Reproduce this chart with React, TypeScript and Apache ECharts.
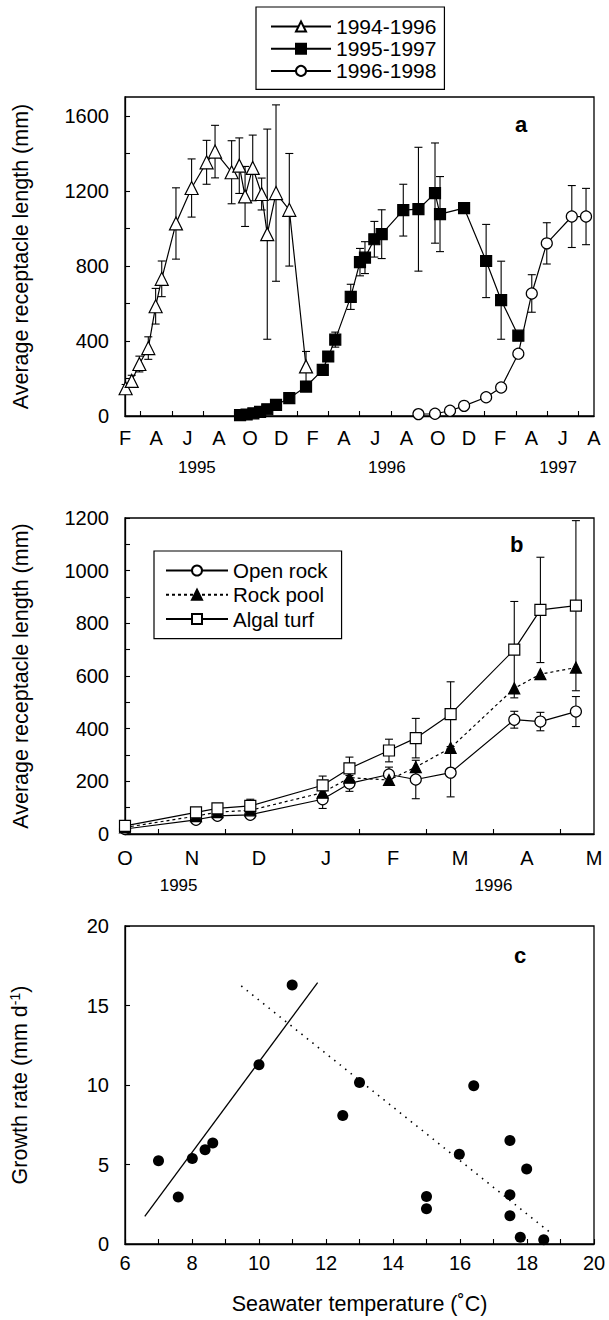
import React, { useEffect, useRef } from 'react';
import * as echarts from 'echarts';

const FONT = '"Liberation Sans", Arial, Helvetica, sans-serif';

// ---------- Panel a ----------
const monthLettersA = ['F', 'A', 'J', 'A', 'O', 'D', 'F', 'A', 'J', 'A', 'O', 'D', 'F', 'A', 'J', 'A'];
const yearLabelsA = ['1995', '1996', '1997'];
const yearPosA = [4.6, 16.75, 27.7];
const yTicksA = [0, 400, 800, 1200, 1600];

// months counted from Feb 1995
const s9496Month = [0.04, 0.43, 0.92, 1.49, 1.96, 2.35, 3.26, 4.26, 5.22, 5.76, 6.82, 7.31, 7.68, 8.17, 8.74, 9.1, 9.66, 10.51, 11.58];
const s9496Value = [148, 187, 277, 362, 585, 731, 1026, 1215, 1352, 1409, 1299, 1334, 1170, 1322, 1183, 969, 1188, 1099, 264];
const s9496Err = [20, 30, 42, 60, 95, 95, 190, 155, 117, 140, 168, 148, 160, 175, 85, 560, 470, 300, 80];

const s9597Month = [7.36, 7.78, 8.21, 8.64, 9.1, 9.66, 10.51, 11.58, 12.65, 13.0, 13.45, 14.44, 15.03, 15.35, 15.95, 16.42, 17.8, 18.77, 19.83, 20.15, 21.69, 23.1, 24.06, 25.16];
const s9597Value = [5, 8, 14, 22, 36, 59, 95, 157, 246, 317, 407, 635, 820, 844, 942, 969, 1097, 1102, 1188, 1076, 1108, 826, 617, 428];
const s9597Err = [0, 0, 0, 0, 0, 0, 0, 0, 0, 20, 40, 67, 73, 85, 95, 130, 138, 330, 267, 200, 0, 195, 208, 0];

const s9698Month = [18.77, 19.83, 20.79, 21.69, 23.1, 24.06, 25.16, 26.02, 26.98, 28.58, 29.49];
const s9698Value = [10, 12, 28, 54, 100, 152, 332, 653, 920, 1063, 1063];
const s9698Err = [0, 0, 0, 0, 0, 0, 15, 100, 110, 165, 150];

// ---------- Panel b ----------
const monthLettersB = ['O', 'N', 'D', 'J', 'F', 'M', 'A', 'M'];
const yearLabelsB = ['1995', '1996'];
const yearPosB = [0.8, 5.5];
// months counted from Oct 1995
const habitatMonth = [0, 1.06, 1.38, 1.87, 2.95, 3.35, 3.94, 4.34, 4.86, 5.81, 6.2, 6.73];
const openRockValue = [19, 54, 69, 73, 132, 192, 226, 207, 233, 434, 427, 465];
const openRockErr = [0, 0, 0, 0, 35, 30, 28, 73, 92, 32, 35, 57];
const rockPoolValue = [25, 68, 83, 90, 157, 214, 205, 254, 327, 553, 607, 632];
const rockPoolErr = [0, 0, 0, 0, 0, 0, 0, 0, 0, 0, 0, 0];
const algalTurfValue = [31, 82, 97, 107, 185, 249, 317, 364, 455, 700, 851, 867];
const algalTurfErr = [0, 0, 0, 25, 35, 43, 43, 75, 123, 183, 200, 323];

// ---------- Panel c ----------
const tempC = [7.0, 7.59, 8.01, 8.39, 8.62, 10.0, 10.99, 12.5, 13.0, 15.0, 15.0, 15.98, 16.41, 17.49, 17.49, 17.49, 17.8, 17.99, 18.5];
const growthRate = [5.24, 2.95, 5.38, 5.93, 6.35, 11.27, 16.29, 8.08, 10.16, 2.99, 2.22, 5.65, 9.95, 6.51, 3.1, 1.78, 0.42, 4.71, 0.27];
const fitRising = [[6.59, 1.74], [11.75, 16.44]];
const fitFalling = [[9.47, 16.23], [18.71, 0.69]];

const range = (a: number, b: number, step: number) => {
  const out: number[] = [];
  for (let v = a; v <= b + 1e-9; v += step) out.push(Math.round(v * 1000) / 1000);
  return out;
};

const pairs = (xs: number[], ys: number[]) => xs.map((x, i) => [x, ys[i]]);
const errData = (xs: number[], ys: number[], es: number[]) =>
  xs.map((x, i) => (es[i] > 0 ? [x, ys[i] - es[i], ys[i] + es[i]] : null)).filter((d) => d !== null);

const errRender = (params: any, api: any) => {
  const x = api.value(0);
  const lo = api.coord([x, api.value(1)]);
  const hi = api.coord([x, api.value(2)]);
  const w = 4;
  const st = { stroke: '#000', lineWidth: 1.1 };
  return {
    type: 'group',
    children: [
      { type: 'line', shape: { x1: hi[0], y1: hi[1], x2: lo[0], y2: lo[1] }, style: st },
      { type: 'line', shape: { x1: hi[0] - w, y1: hi[1], x2: hi[0] + w, y2: hi[1] }, style: st },
      { type: 'line', shape: { x1: lo[0] - w, y1: lo[1], x2: lo[0] + w, y2: lo[1] }, style: st },
    ],
  };
};

const errSeries = (name: string, idx: number, data: any[]) => ({
  type: 'custom',
  name,
  xAxisIndex: idx === 0 ? 0 : idx === 1 ? 2 : 4,
  yAxisIndex: idx,
  renderItem: errRender,
  encode: { x: 0, y: [1, 2] },
  data,
  z: 1,
  silent: true,
});

const lineSeries = (name: string, idx: number, data: any[], symbol: string, size: number, fill: string, dashed = false) => ({
  type: 'line',
  name,
  xAxisIndex: idx === 0 ? 0 : idx === 1 ? 2 : 4,
  yAxisIndex: idx,
  data,
  symbol,
  symbolSize: size,
  showAllSymbol: true,
  lineStyle: { color: '#000', width: 1.2, type: dashed ? [3, 3] : 'solid' },
  itemStyle: { color: fill, borderColor: '#000', borderWidth: 1.2 },
  z: 3,
  silent: true,
});

const axisLineStyle = { show: true, lineStyle: { color: '#000', width: 1.3 } };
const labelBase = { color: '#000', fontFamily: FONT, fontSize: 20 };
const plain = (v: number) => String(v);

export default function App() {
  const ref = useRef<HTMLDivElement>(null);

  useEffect(() => {
    document.body.style.margin = '0';
    if (!ref.current) return;
    const chart = echarts.init(ref.current, undefined, { renderer: 'svg' });

    const monthTicksA = monthLettersA.map((_, i) => i * 2);
    const midTicksA = monthLettersA.slice(1).map((_, i) => i * 2 + 1);
    const monthTicksB = monthLettersB.map((_, i) => i);
    const midTicksB = monthLettersB.slice(1).map((_, i) => i + 0.5);

    const titleStyle = { color: '#000', fontFamily: FONT, fontSize: 21.5 };

    const option: any = {
      animation: false,
      backgroundColor: '#fff',
      textStyle: { fontFamily: FONT, color: '#000' },
      grid: [
        { left: 125, top: 97, width: 469, height: 319, show: true, borderColor: '#000', borderWidth: 1.3, backgroundColor: 'transparent' },
        { left: 125, top: 518, width: 469, height: 316, show: true, borderColor: '#000', borderWidth: 1.3, backgroundColor: 'transparent' },
        { left: 125, top: 926, width: 469, height: 318, show: true, borderColor: '#000', borderWidth: 1.3, backgroundColor: 'transparent' },
      ],
      xAxis: [
        {
          gridIndex: 0, type: 'value', min: 0, max: 30, position: 'bottom',
          axisLine: axisLineStyle, splitLine: { show: false },
          axisTick: { show: true, inside: true, length: 5, customValues: midTicksA, lineStyle: { color: '#000', width: 1.1 } },
          axisLabel: { ...labelBase, margin: 12, customValues: monthTicksA, formatter: (v: number) => monthLettersA[Math.round(v / 2)] },
        },
        {
          gridIndex: 0, type: 'value', min: 0, max: 30, position: 'bottom',
          axisLine: { show: false }, axisTick: { show: false }, splitLine: { show: false },
          axisLabel: {
            ...labelBase, fontSize: 17, margin: 43, customValues: yearPosA,
            formatter: (v: number) => yearLabelsA[yearPosA.findIndex((p) => Math.abs(p - v) < 1e-6)] || '',
          },
        },
        {
          gridIndex: 1, type: 'value', min: 0, max: 7, position: 'bottom',
          axisLine: axisLineStyle, splitLine: { show: false },
          axisTick: { show: true, inside: true, length: 5, customValues: midTicksB, lineStyle: { color: '#000', width: 1.1 } },
          axisLabel: { ...labelBase, margin: 14, customValues: monthTicksB, formatter: (v: number) => monthLettersB[Math.round(v)] },
        },
        {
          gridIndex: 1, type: 'value', min: 0, max: 7, position: 'bottom',
          axisLine: { show: false }, axisTick: { show: false }, splitLine: { show: false },
          axisLabel: {
            ...labelBase, fontSize: 17, margin: 43, customValues: yearPosB,
            formatter: (v: number) => yearLabelsB[yearPosB.findIndex((p) => Math.abs(p - v) < 1e-6)] || '',
          },
        },
        {
          gridIndex: 2, type: 'value', min: 6, max: 20, position: 'bottom',
          axisLine: axisLineStyle, splitLine: { show: false },
          axisTick: { show: true, inside: true, length: 5, customValues: range(6, 20, 1), lineStyle: { color: '#000', width: 1.1 } },
          axisLabel: { ...labelBase, margin: 9, customValues: range(6, 20, 2), formatter: plain },
          name: 'Seawater temperature (˚C)', nameLocation: 'middle', nameGap: 49,
          nameTextStyle: titleStyle,
        },
      ],
      yAxis: [
        {
          gridIndex: 0, type: 'value', min: 0, max: 1700,
          axisLine: axisLineStyle, splitLine: { show: false },
          axisTick: { show: true, inside: true, length: 5, customValues: range(0, 1600, 200), lineStyle: { color: '#000', width: 1.1 } },
          axisLabel: { ...labelBase, margin: 16, customValues: yTicksA, formatter: plain },
          name: 'Average receptacle length (mm)', nameLocation: 'middle', nameGap: 93,
          nameTextStyle: titleStyle,
        },
        {
          gridIndex: 1, type: 'value', min: 0, max: 1200,
          axisLine: axisLineStyle, splitLine: { show: false },
          axisTick: { show: true, inside: true, length: 5, customValues: range(0, 1200, 100), lineStyle: { color: '#000', width: 1.1 } },
          axisLabel: { ...labelBase, margin: 16, customValues: range(0, 1200, 200), formatter: plain },
          name: 'Average receptacle length (mm)', nameLocation: 'middle', nameGap: 93,
          nameTextStyle: titleStyle,
        },
        {
          gridIndex: 2, type: 'value', min: 0, max: 20,
          axisLine: axisLineStyle, splitLine: { show: false },
          axisTick: { show: true, inside: true, length: 5, customValues: range(0, 20, 5), lineStyle: { color: '#000', width: 1.1 } },
          axisLabel: { ...labelBase, margin: 16, customValues: range(0, 20, 5), formatter: plain },
          name: 'Growth rate (mm d{sup|-1})', nameLocation: 'middle', nameGap: 93,
          nameTextStyle: {
            ...titleStyle, lineHeight: 24,
            rich: { sup: { fontSize: 14, fontFamily: FONT, color: '#000', verticalAlign: 'top', lineHeight: 24, padding: [0, 0, 8, 0] } },
          },
        },
      ],
      legend: [
        {
          orient: 'vertical', left: 256, top: 7, padding: [9, 8, 8, 14],
          itemWidth: 60, itemHeight: 12.5, itemGap: 1.2,
          borderColor: '#000', borderWidth: 1.2, selectedMode: false,
          textStyle: { color: '#000', fontFamily: FONT, fontSize: 21, lineHeight: 20.5 },
          data: ['1994-1996', '1995-1997', '1996-1998'],
        },
        {
          orient: 'vertical', left: 154, top: 551, padding: [9, 14, 9, 11],
          itemWidth: 62, itemHeight: 12.5, itemGap: 3.3,
          borderColor: '#000', borderWidth: 1.2, selectedMode: false,
          textStyle: { color: '#000', fontFamily: FONT, fontSize: 20.5, lineHeight: 20 },
          data: ['Open rock', 'Rock pool', 'Algal turf'],
        },
      ],
      graphic: [
        { type: 'text', left: 515, top: 113, style: { text: 'a', fontFamily: FONT, fontSize: 22, fontWeight: 'bold', fill: '#000' } },
        { type: 'text', left: 510, top: 533, style: { text: 'b', fontFamily: FONT, fontSize: 22, fontWeight: 'bold', fill: '#000' } },
        { type: 'text', left: 514, top: 944, style: { text: 'c', fontFamily: FONT, fontSize: 22, fontWeight: 'bold', fill: '#000' } },
      ],
      series: [
        errSeries('e9496', 0, errData(s9496Month, s9496Value, s9496Err)),
        errSeries('e9597', 0, errData(s9597Month, s9597Value, s9597Err)),
        errSeries('e9698', 0, errData(s9698Month, s9698Value, s9698Err)),
        lineSeries('1994-1996', 0, pairs(s9496Month, s9496Value), 'triangle', 13, '#fff'),
        lineSeries('1995-1997', 0, pairs(s9597Month, s9597Value), 'rect', 11, '#000'),
        lineSeries('1996-1998', 0, pairs(s9698Month, s9698Value), 'circle', 11, '#fff'),

        errSeries('eOpen', 1, errData(habitatMonth, openRockValue, openRockErr)),
        errSeries('ePool', 1, errData(habitatMonth, rockPoolValue, rockPoolErr)),
        errSeries('eTurf', 1, errData(habitatMonth, algalTurfValue, algalTurfErr)),
        lineSeries('Open rock', 1, pairs(habitatMonth, openRockValue), 'circle', 11, '#fff'),
        lineSeries('Rock pool', 1, pairs(habitatMonth, rockPoolValue), 'triangle', 11, '#000', true),
        lineSeries('Algal turf', 1, pairs(habitatMonth, algalTurfValue), 'rect', 11, '#fff'),

        {
          type: 'line', name: 'fit rising', xAxisIndex: 4, yAxisIndex: 2, data: fitRising,
          showSymbol: false, symbol: 'none', lineStyle: { color: '#000', width: 1.3 }, silent: true,
        },
        {
          type: 'line', name: 'fit falling', xAxisIndex: 4, yAxisIndex: 2, data: fitFalling,
          showSymbol: false, symbol: 'none', lineStyle: { color: '#000', width: 1.6, type: [1.5, 5.5] }, silent: true,
        },
        {
          type: 'scatter', name: 'growth', xAxisIndex: 4, yAxisIndex: 2, data: pairs(tempC, growthRate),
          symbol: 'circle', symbolSize: 11, itemStyle: { color: '#000', opacity: 1 }, z: 3, silent: true,
        },
      ],
    };

    chart.setOption(option);
    return () => chart.dispose();
  }, []);

  return <div ref={ref} style={{ width: 609, height: 1320 }} />;
}
